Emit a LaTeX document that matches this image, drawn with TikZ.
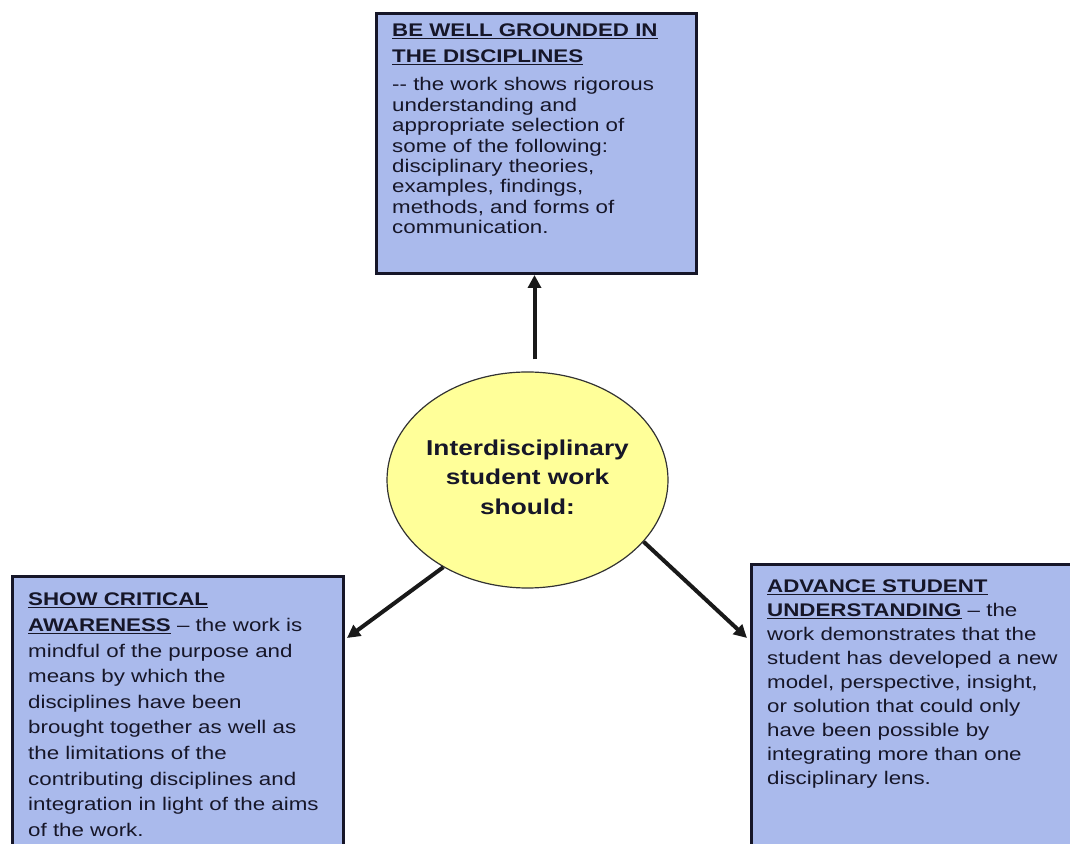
\documentclass[tikz,border=0pt]{standalone}
\usepackage{fontspec}
\setmainfont{Liberation Sans}[FakeStretch=1.22]
\usetikzlibrary{positioning,shapes.geometric,calc,arrows.meta}
\definecolor{boxblue}{RGB}{170,186,236}
\definecolor{bubble}{RGB}{255,255,153}
\definecolor{ink}{RGB}{22,22,40}

\begin{document}
\begin{tikzpicture}[x=1pt,y=1pt,
    goalbox/.style={rectangle,draw=ink,line width=3pt,fill=boxblue,anchor=north west,inner sep=0pt},
    goaltext/.style={align=left,inner sep=0pt,text=ink},
    link/.style={line width=4pt,draw=black!90,-{Triangle[length=13pt,width=13pt]}}]
      \useasboundingbox (0,0) rectangle (1070,843);
      \clip (0,0) rectangle (1070,843);

      % centre ellipse
      \node[ellipse,draw=black!80,line width=1.2pt,fill=bubble,minimum width=281pt,minimum height=216pt] (ctr) at (527.5,363) {};
      \node[align=center,text=ink,inner sep=0pt,font=\fontsize{21.5}{29.5}\selectfont\bfseries] (ctrtxt) at ([yshift=3pt]ctr.center)
            {Interdisciplinary\\student work\\should:};

      % goal boxes
      \node[goalbox,minimum width=320pt,minimum height=260pt] (ground) at (375,831) {};
      \node[goalbox,minimum width=331pt,minimum height=400pt] (critical) at (11,268) {};
      \node[goalbox,minimum width=340pt,minimum height=400pt] (advance) at (750,280) {};

      % box texts
      \node[goaltext,below right=12pt and 17pt of ground.north west,font=\fontsize{18.3}{20.4}\selectfont] (groundtxt)
            {\underline{\bfseries BE WELL GROUNDED IN}\\[5.6pt]
             \underline{\bfseries THE DISCIPLINES}\\[7.6pt]
             -{}- the work shows rigorous\\
             understanding and\\
             appropriate selection of\\
             some of the following:\\
             disciplinary theories,\\
             examples, findings,\\
             methods, and forms of\\
             communication.};
      \node[goaltext,below right=18pt and 17pt of critical.north west,font=\fontsize{18.3}{25.6}\selectfont] (criticaltxt)
            {\underline{\bfseries SHOW CRITICAL}\\
             \underline{\bfseries AWARENESS} -- the work is\\
             mindful of the purpose and\\
             means by which the\\
             disciplines have been\\
             brought together as well as\\
             the limitations of the\\
             contributing disciplines and\\
             integration in light of the aims\\
             of the work.};
      \node[goaltext,below right=17pt and 17pt of advance.north west,font=\fontsize{18.3}{23.9}\selectfont] (advancetxt)
            {\underline{\bfseries ADVANCE STUDENT}\\
             \underline{\bfseries UNDERSTANDING} -- the\\
             work demonstrates that the\\
             student has developed a new\\
             model, perspective, insight,\\
             or solution that could only\\
             have been possible by\\
             integrating more than one\\
             disciplinary lens.};

      % arrows
      \draw[link] ($(ctr.north -| ground.south)+(-2,12)$) -- ($(ground.south)+(-2,0)$);
      \draw[link] (ctr.226) -- ($(critical.north east)+(2,-63)$);
      \draw[link] (ctr.-28) -- ($(advance.north west)+(-3,-75)$);

\end{tikzpicture}
\end{document}
